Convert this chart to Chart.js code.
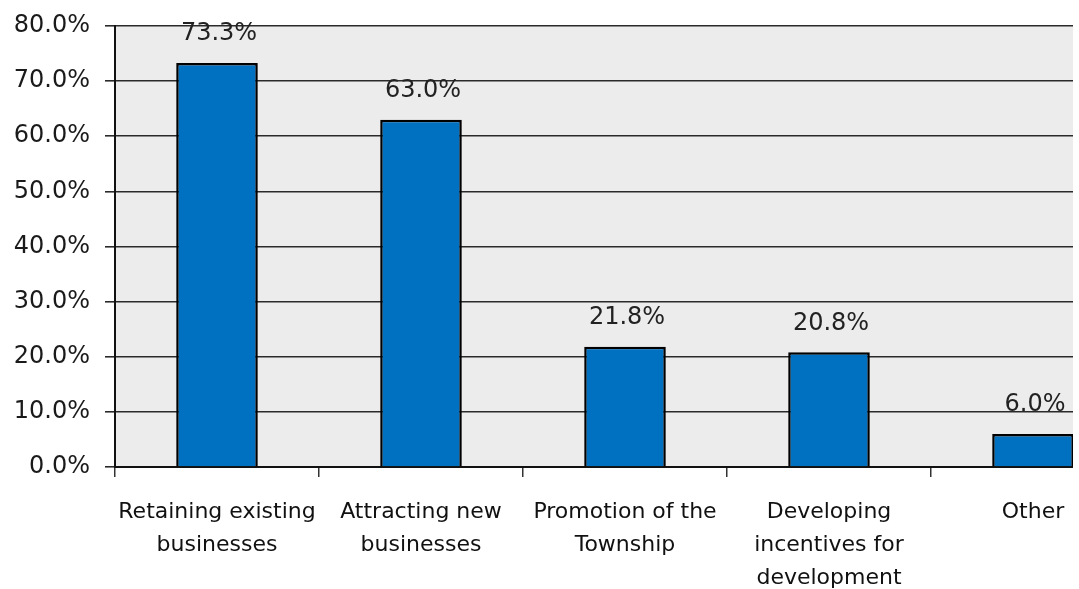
<!DOCTYPE html>
<html>
<head>
<meta charset="utf-8">
<script src="https://cdn.jsdelivr.net/npm/chart.js@4/dist/chart.umd.min.js"></script>
<style>
  html, body { margin: 0; padding: 0; background: #fff; overflow: hidden; }
  #wrap { width: 1073px; height: 589px; overflow: hidden; position: relative; }
  #box { width: 1140px; height: 589px; }
</style>
</head>
<body>
<div id="wrap"><div id="box"><canvas id="chart"></canvas></div></div>
<script>
const categories = [
  ["Retaining existing", "businesses"],
  ["Attracting new", "businesses"],
  ["Promotion of the", "Township"],
  ["Developing", "incentives for", "development"],
  ["Other"]
];
const values = [73.3, 63.0, 21.8, 20.8, 6.0];
const yTicks = [0, 10, 20, 30, 40, 50, 60, 70, 80];

// grey plot background
const plotBg = {
  id: "plotBg",
  beforeDraw(chart) {
    const { ctx, chartArea: a } = chart;
    ctx.save();
    ctx.fillStyle = "#ececec";
    ctx.fillRect(a.left, a.top, a.right - a.left, a.bottom - a.top);
    ctx.restore();
  }
};

// value labels above bars
const barLabels = {
  id: "barLabels",
  afterDatasetsDraw(chart) {
    const ctx = chart.ctx;
    const meta = chart.getDatasetMeta(0);
    ctx.save();
    ctx.font = "24px 'DejaVu Sans'";
    ctx.fillStyle = "#222";
    ctx.textAlign = "center";
    ctx.textBaseline = "middle";
    meta.data.forEach((bar, i) => {
      ctx.fillText(values[i].toFixed(1) + "%", bar.x + 2, bar.y - 29);
    });
    ctx.restore();
  }
};

new Chart(document.getElementById("chart"), {
  type: "bar",
  data: {
    labels: categories,
    datasets: [{
      data: values,
      backgroundColor: "#0070c0",
      borderColor: "#000",
      borderWidth: 2.5,
      barPercentage: 0.8,
      categoryPercentage: 0.5
    }]
  },
  plugins: [plotBg, barLabels],
  options: {
    responsive: true,
    maintainAspectRatio: false,
    animation: false,
    layout: { padding: { top: 26, left: 0, right: 5, bottom: 0 } },
    plugins: { legend: { display: false }, tooltip: { enabled: false } },
    scales: {
      x: {
        grid: { offset: true, drawOnChartArea: false, tickLength: 10, color: "#333", lineWidth: 1.5 },
        border: { color: "#111", width: 2 },
        ticks: {
          color: "#111",
          font: { family: "'DejaVu Sans'", size: 22, lineHeight: 1.5 },
          padding: 19,
          maxRotation: 0,
          autoSkip: false
        },
        afterFit(scale) { scale.height = 122; }
      },
      y: {
        min: 0,
        max: 80,
        afterBuildTicks(scale) { scale.ticks = yTicks.map(v => ({ value: v })); },
        grid: { color: "#2a2a2a", lineWidth: 1.6, tickLength: 10 },
        border: { color: "#111", width: 2 },
        ticks: {
          color: "#1a1a1a",
          font: { family: "'DejaVu Sans'", size: 24 },
          padding: 15,
          callback: v => v.toFixed(1) + "%"
        },
        afterFit(scale) { scale.width = 115; scale.paddingTop = 0; }
      }
    }
  }
});
</script>
</body>
</html>
